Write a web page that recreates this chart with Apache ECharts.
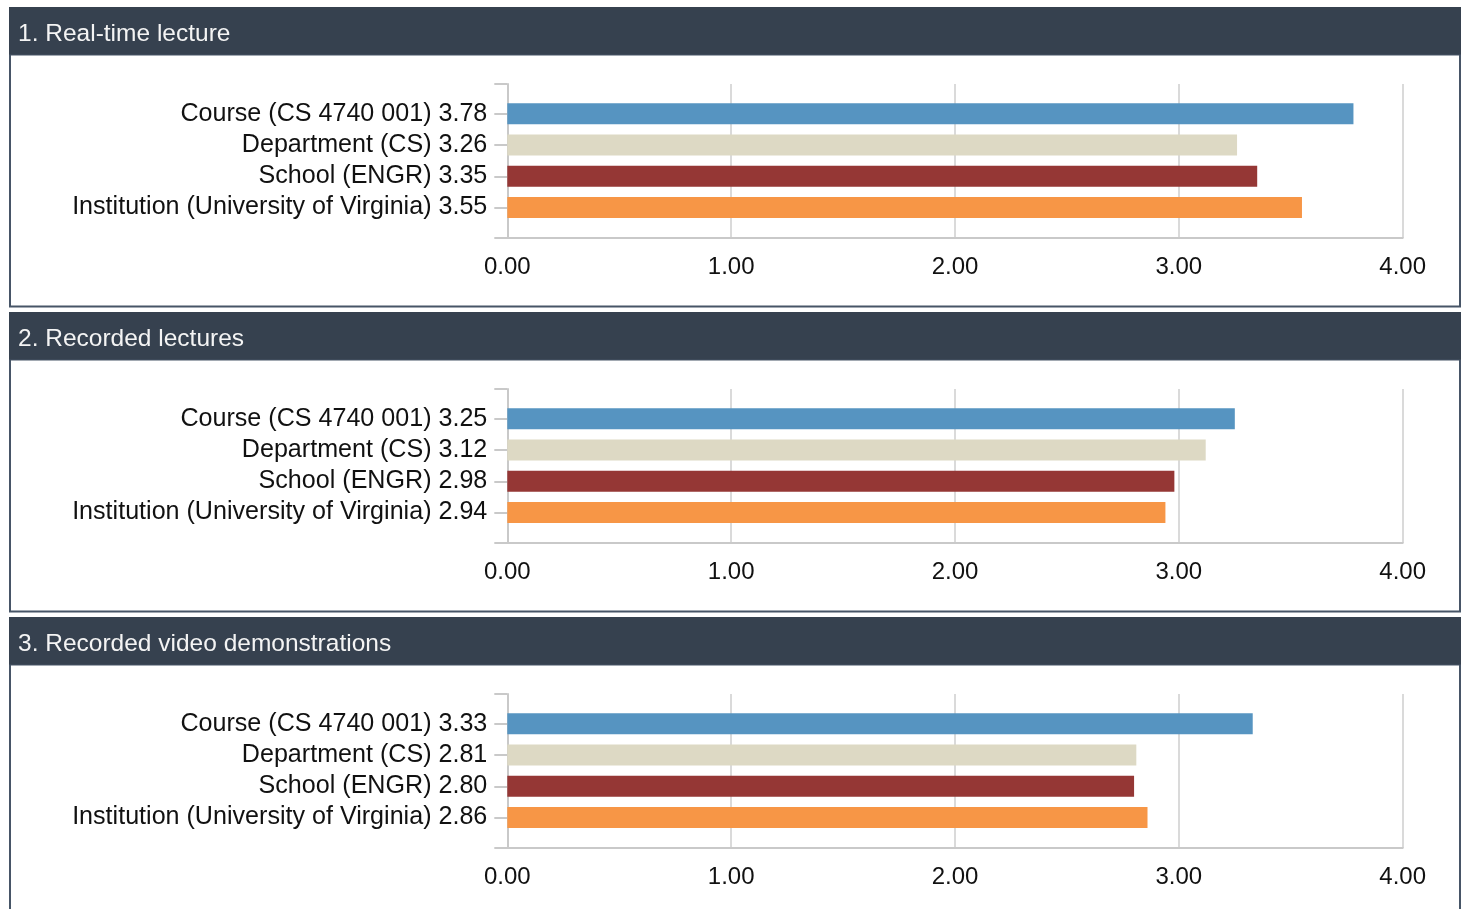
<!DOCTYPE html>
<html>
<head>
<meta charset="utf-8">
<script src="https://cdn.jsdelivr.net/npm/echarts@6/dist/echarts.min.js"></script>
<style>
  html, body { margin: 0; padding: 0; background: #ffffff; }
  #chart { width: 1467px; height: 909px; }
</style>
</head>
<body>
<div id="chart"></div>
<script>
// ---- data ----
const categories = ['Course (CS 4740 001)', 'Department (CS)', 'School (ENGR)', 'Institution (University of Virginia)'];
const panelTitles = ['1. Real-time lecture', '2. Recorded lectures', '3. Recorded video demonstrations'];
const realTimeLecture = [3.78, 3.26, 3.35, 3.55];
const recordedLectures = [3.25, 3.12, 2.98, 2.94];
const recordedVideoDemos = [3.33, 2.81, 2.80, 2.86];
const xTickLabels = ['0.00', '1.00', '2.00', '3.00', '4.00'];
const barColors = ['#5694c1', '#ddd9c4', '#953735', '#f79646'];

const panelValues = [realTimeLecture, recordedLectures, recordedVideoDemos];

// ---- layout / style ----
const FONT = '"Liberation Sans", Arial, sans-serif';
const HEADER = '#36414f';
const BORDER = '#475567';
const AXIS = '#c9c9c9';
const GRID = '#dadada';
const PANEL_STEP = 305;
const PANEL_TOP0 = 7;
const PLOT_LEFT = 507.3;
const PLOT_WIDTH = 895.4;

const grids = [], xAxes = [], yAxes = [], series = [], graphics = [];

panelValues.forEach((vals, i) => {
  const T = PANEL_TOP0 + i * PANEL_STEP;

  // panel body border
  graphics.push({
    type: 'rect', z: -10, silent: true,
    shape: { x: 10, y: T + 47.5, width: 1450, height: 252 },
    style: { fill: '#ffffff', stroke: BORDER, lineWidth: 2 }
  });
  // header
  graphics.push({
    type: 'rect', z: -9, silent: true,
    shape: { x: 9, y: T, width: 1452, height: 47.5 },
    style: { fill: HEADER }
  });
  graphics.push({
    type: 'text', z: -8, silent: true,
    x: 18, y: T + 27.5,
    style: { text: panelTitles[i], fill: '#f4f4f4', font: '24.5px ' + FONT, verticalAlign: 'middle', align: 'left' }
  });

  const gFrame = grids.length;
  grids.push({ left: PLOT_LEFT, width: PLOT_WIDTH, top: T + 77, height: 154, containLabel: false });
  const gBar = grids.length;
  grids.push({ left: PLOT_LEFT, width: PLOT_WIDTH, top: T + 91.2, height: 124.9, containLabel: false });

  // frame axes (grid lines, value labels, axis lines)
  xAxes.push({
    gridIndex: gFrame, type: 'value', min: 0, max: 4, interval: 1,
    axisLine: { show: true, onZero: false, lineStyle: { color: AXIS, width: 2 } },
    axisTick: { show: false },
    splitLine: { show: true, lineStyle: { color: GRID, width: 2 } },
    axisLabel: {
      margin: 17, fontSize: 24, fontFamily: FONT, color: '#111111',
      formatter: v => xTickLabels[Math.round(v / 1)]
    }
  });
  yAxes.push({
    gridIndex: gFrame, type: 'value', min: 0, max: 1, interval: 1,
    axisLine: { show: true, onZero: false, lineStyle: { color: AXIS, width: 2 } },
    axisTick: { show: true, length: 13, lineStyle: { color: AXIS, width: 2 } },
    axisLabel: { show: false },
    splitLine: { show: false }
  });

  // bar axes
  const xBar = xAxes.length;
  xAxes.push({
    gridIndex: gBar, type: 'value', min: 0, max: 4, show: false
  });
  const yBar = yAxes.length;
  yAxes.push({
    gridIndex: gBar, type: 'category', inverse: true,
    data: categories.map((c, k) => c + ' ' + vals[k].toFixed(2)),
    axisLine: { show: false },
    axisTick: { show: true, interval: 0, alignWithLabel: true, length: 13, lineStyle: { color: AXIS, width: 2 } },
    axisLabel: { interval: 0, hideOverlap: false, margin: 20, fontSize: 25.1, fontFamily: FONT, color: '#111111' },
    splitLine: { show: false }
  });

  series.push({
    type: 'bar', xAxisIndex: xBar, yAxisIndex: yBar,
    data: vals, barWidth: 21, colorBy: 'data', silent: true,
    itemStyle: { borderWidth: 0 }
  });
});

const chart = echarts.init(document.getElementById('chart'), null, { renderer: 'canvas' });
chart.setOption({
  animation: false,
  backgroundColor: '#ffffff',
  color: barColors,
  textStyle: { fontFamily: FONT },
  grid: grids,
  xAxis: xAxes,
  yAxis: yAxes,
  series: series,
  graphic: graphics
});
</script>
</body>
</html>
